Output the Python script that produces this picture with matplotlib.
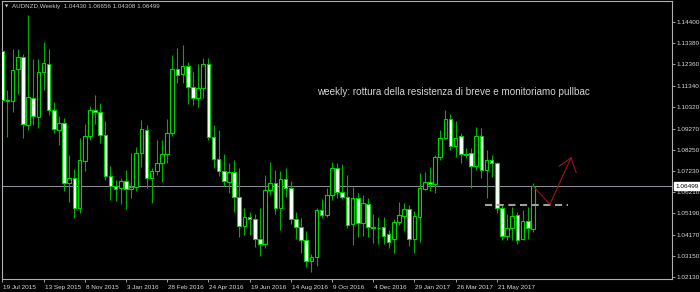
import matplotlib
matplotlib.use('Agg')
import matplotlib.pyplot as plt
import matplotlib.transforms as mtransforms
import numpy as np
import pandas as pd

plt.rcParams['font.family'] = ['Liberation Sans', 'DejaVu Sans']

# weekly AUDNZD bars, first bar 19 Jul 2015
dates = pd.date_range('2015-07-19', periods=104, freq='7D')

opens = [1.1301, 1.1065, 1.1060, 1.1214, 1.1272, 1.0945, 1.1074, 1.0983, 1.1200, 1.1238,
         1.1017, 1.0921, 1.0954, 1.0666, 1.0690, 1.0545, 1.0771, 1.0892, 1.1017, 1.1007,
         1.0896, 1.0699, 1.0651, 1.0642, 1.0675, 1.0637, 1.0646, 1.0810, 1.0921, 1.0690,
         1.0723, 1.0762, 1.0805, 1.0906, 1.1214, 1.1190, 1.1228, 1.1127, 1.1074, 1.1123,
         1.1238, 1.0887, 1.0781, 1.0723, 1.0670, 1.0719, 1.0598, 1.0459, 1.0502, 1.0492,
         1.0396, 1.0372, 1.0632, 1.0666, 1.0545, 1.0685, 1.0642, 1.0492, 1.0454, 1.0391,
         1.0290, 1.0310, 1.0536, 1.0512, 1.0608, 1.0738, 1.0622, 1.0598, 1.0468, 1.0593,
         1.0473, 1.0565, 1.0454, 1.0447, 1.0454, 1.0420, 1.0396, 1.0478, 1.0507, 1.0540,
         1.0396, 1.0502, 1.0637, 1.0670, 1.0661, 1.0791, 1.0882, 1.0973, 1.0844, 1.0892,
         1.0805, 1.0810, 1.0747, 1.0892, 1.0728, 1.0776, 1.0762, 1.0545, 1.0411, 1.0449,
         1.0512, 1.0396, 1.0483, 1.04430]
highs = [1.1315, 1.1113, 1.1310, 1.1310, 1.1286, 1.1474, 1.1262, 1.1262, 1.1344, 1.1310,
         1.1055, 1.0988, 1.0978, 1.0800, 1.0733, 1.0882, 1.0949, 1.1036, 1.1089, 1.1050,
         1.0964, 1.0747, 1.0680, 1.0690, 1.0728, 1.0810, 1.0839, 1.0969, 1.0945, 1.0738,
         1.0872, 1.0872, 1.0973, 1.1281, 1.1315, 1.1329, 1.1248, 1.1200, 1.1238, 1.1267,
         1.1267, 1.0945, 1.0921, 1.0805, 1.0762, 1.0776, 1.0738, 1.0545, 1.0526, 1.0516,
         1.0545, 1.0704, 1.0767, 1.0728, 1.0723, 1.0738, 1.0675, 1.0526, 1.0497, 1.0435,
         1.0324, 1.0545, 1.0589, 1.0642, 1.0767, 1.0762, 1.0757, 1.0704, 1.0646, 1.0618,
         1.0608, 1.0593, 1.0516, 1.0502, 1.0502, 1.0440, 1.0492, 1.0574, 1.0569, 1.0560,
         1.0531, 1.0714, 1.0719, 1.0743, 1.0800, 1.0921, 1.1017, 1.0998, 1.0964, 1.0906,
         1.0834, 1.0834, 1.0935, 1.0930, 1.0824, 1.0800, 1.0767, 1.0560, 1.0516, 1.0550,
         1.0526, 1.0536, 1.0550, 1.06656]
lows = [1.1046, 1.0887, 1.1007, 1.1094, 1.0882, 1.0921, 1.0945, 1.0930, 1.1113, 1.0993,
        1.0906, 1.0848, 1.0627, 1.0574, 1.0497, 1.0521, 1.0723, 1.0872, 1.0949, 1.0858,
        1.0680, 1.0584, 1.0579, 1.0565, 1.0540, 1.0593, 1.0627, 1.0742, 1.0642, 1.0569,
        1.0704, 1.0670, 1.0762, 1.0892, 1.1147, 1.1147, 1.1046, 1.1041, 1.1031, 1.1074,
        1.0872, 1.0738, 1.0699, 1.0651, 1.0618, 1.0526, 1.0406, 1.0415, 1.0415, 1.0358,
        1.0314, 1.0353, 1.0608, 1.0516, 1.0439, 1.0598, 1.0468, 1.0396, 1.0329, 1.0262,
        1.0238, 1.0266, 1.0497, 1.0502, 1.0584, 1.0593, 1.0589, 1.0449, 1.0367, 1.0406,
        1.0411, 1.0406, 1.0377, 1.0372, 1.0372, 1.0353, 1.0329, 1.0463, 1.0435, 1.0363,
        1.0329, 1.0382, 1.0632, 1.0627, 1.0618, 1.0776, 1.0877, 1.0824, 1.0791, 1.0762,
        1.0786, 1.0642, 1.0728, 1.0690, 1.0593, 1.0694, 1.0521, 1.0391, 1.0391, 1.0391,
        1.0372, 1.0391, 1.0396, 1.04308]
closes = [1.1065, 1.1060, 1.1209, 1.1272, 1.0949, 1.1079, 1.0988, 1.1200, 1.1243, 1.1017,
          1.0925, 1.0954, 1.0666, 1.0690, 1.0545, 1.0776, 1.0892, 1.1017, 1.1007, 1.0896,
          1.0699, 1.0651, 1.0637, 1.0675, 1.0637, 1.0646, 1.0810, 1.0925, 1.0690, 1.0723,
          1.0762, 1.0805, 1.0906, 1.1214, 1.1185, 1.1228, 1.1127, 1.1074, 1.1123, 1.1238,
          1.0887, 1.0781, 1.0723, 1.0675, 1.0719, 1.0598, 1.0459, 1.0502, 1.0492, 1.0396,
          1.0372, 1.0632, 1.0666, 1.0545, 1.0685, 1.0642, 1.0492, 1.0454, 1.0391, 1.0290,
          1.0310, 1.0536, 1.0512, 1.0608, 1.0738, 1.0622, 1.0598, 1.0464, 1.0593, 1.0473,
          1.0569, 1.0454, 1.0449, 1.0449, 1.0411, 1.0382, 1.0478, 1.0512, 1.0540, 1.0396,
          1.0507, 1.0642, 1.0670, 1.0661, 1.0791, 1.0882, 1.0973, 1.0844, 1.0882, 1.0805,
          1.0800, 1.0747, 1.0892, 1.0728, 1.0776, 1.0762, 1.0545, 1.0411, 1.0449, 1.0507,
          1.0391, 1.0483, 1.0449, 1.06499]

price_ticks = [1.14400, 1.13380, 1.12360, 1.11340, 1.10320, 1.09270, 1.08250,
               1.07230, 1.06210, 1.05190, 1.04170, 1.03150, 1.02130]

# drawn objects: support level and projected path (bar index, price)
support_level = 1.0560
support_bars = [93.7, 109.8]
path_bars = [103.0, 106.3, 110.4]
path_prices = [1.0651, 1.0563, 1.0787]
arrow_bars = [108.1, 110.4, 111.4]
arrow_prices = [1.0747, 1.0787, 1.0715]

note = 'weekly: rottura della resistenza di breve e monitoriamo pullbac'

o = np.array(opens)
h = np.array(highs)
l = np.array(lows)
c = np.array(closes)
x = np.arange(len(o))
up = c >= o

fig = plt.figure(figsize=(7, 2.92), dpi=100, facecolor='black')
ax = fig.add_axes([1.5 / 700, 13 / 292, 670.5 / 700, 278 / 292], facecolor='black')

ax.axhline(c[-1], color='#8a8a96', lw=0.8, zorder=1)
ax.vlines(x, l, h, color='#00b000', lw=0.8, zorder=2)
body_h = np.maximum(np.abs(c - o), 0.00015)
ax.bar(x, body_h, bottom=np.minimum(o, c), width=0.7,
       color=np.where(up, 'black', 'white'), edgecolor='#00d400',
       linewidth=0.8, zorder=3)

ax.plot(support_bars, [support_level] * 2, color='#a0a0a0', lw=1.5,
        dashes=(3.4, 2.2), zorder=4)
ax.plot(path_bars, path_prices, color='#a01414', lw=0.8, zorder=5)
ax.plot(arrow_bars, arrow_prices, color='#a01414', lw=0.8, zorder=5)

ax.text(61.1, 1.1103, note, color='#d4d4d4', fontsize=7.15, ha='left', va='center')

ax.set_xlim(-0.155, 130.0)
ax.set_ylim(1.02038, 1.15410)

ax.yaxis.tick_right()
ax.set_yticks(price_ticks)
ax.set_yticklabels([f'{v:.5f}' for v in price_ticks])
ax.tick_params(axis='y', colors='#b8b8b8', labelcolor='#d8d8e0', labelsize=4.6,
               length=2, width=0.6, pad=1.5)

ax.set_xticks(x[::8])
ax.set_xticklabels([f"{d.day} {d.strftime('%b %Y')}" for d in dates[::8]])
ax.tick_params(axis='x', colors='#b8b8b8', labelcolor='#d8d8e0', labelsize=4.6,
               length=2, width=0.6, pad=2)
offset = mtransforms.ScaledTranslation(1 / 100, 0, fig.dpi_scale_trans)
for lab in ax.get_xticklabels():
    lab.set_horizontalalignment('left')
    lab.set_transform(lab.get_transform() + offset)

for sp in ax.spines.values():
    sp.set_color('#b0b0b0')
    sp.set_linewidth(0.8)

# current price label on the price scale
trans = mtransforms.blended_transform_factory(ax.transAxes, ax.transData)
ax.text(1.0052, c[-1], f'{c[-1]:.5f}', transform=trans, color='black', fontsize=4.6,
        ha='left', va='center', zorder=10, clip_on=False,
        bbox=dict(boxstyle='square,pad=0.2', fc='white', ec='white'))

fig.text(5 / 700, 1 - 6.5 / 292, '\u25bc', color='#d0d0d0', fontsize=3, va='center',
         family='DejaVu Sans')
fig.text(12 / 700, 1 - 6.5 / 292,
         'AUDNZD,Weekly  1.04430 1.06656 1.04308 1.06499',
         color='#c8c8d0', fontsize=4.5, va='center')

fig.savefig('out.png', dpi=100, facecolor='black')
